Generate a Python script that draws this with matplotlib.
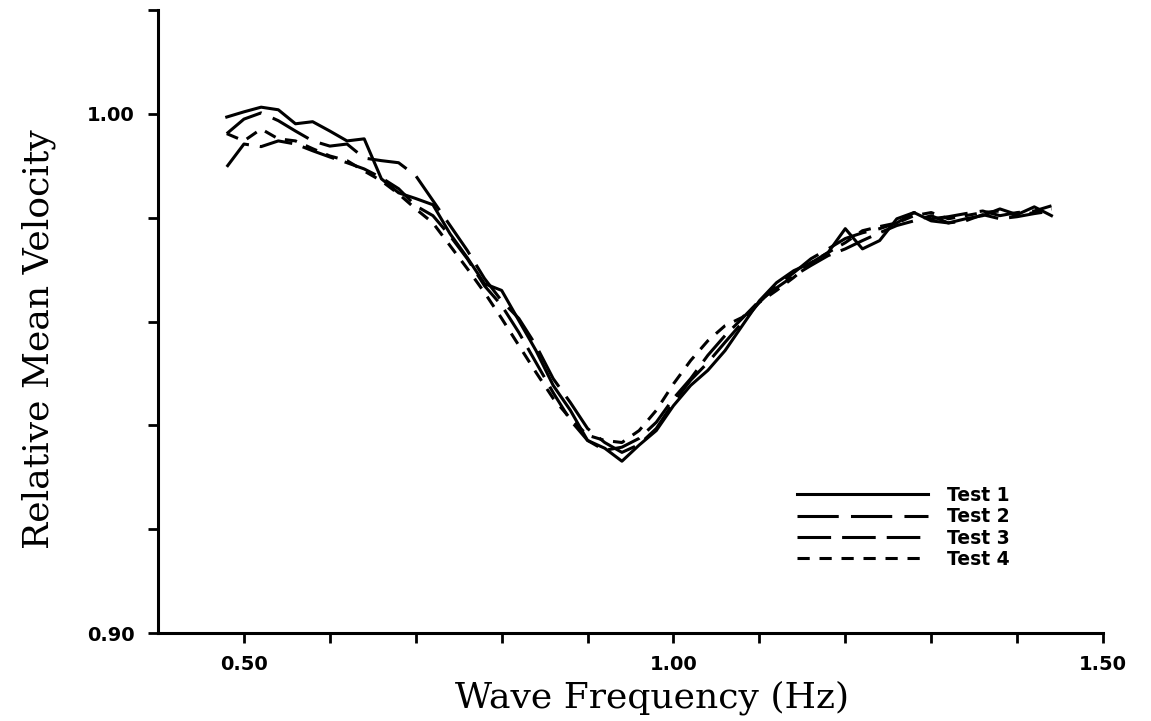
import matplotlib
matplotlib.use("Agg")
import matplotlib.pyplot as plt
import numpy as np

# wave frequency (Hz), sampled every 0.02 Hz
freq = np.round(np.arange(0.48, 1.4401, 0.02), 2)

test1 = [0.9994, 1.0004, 1.0013, 1.0008, 0.9981, 0.9985, 0.9967, 0.9948, 0.9952, 0.9875,
         0.9848, 0.9837, 0.9825, 0.9769, 0.9723, 0.9673, 0.9660, 0.9602, 0.9544, 0.9477,
         0.9429, 0.9371, 0.9356, 0.9331, 0.9362, 0.9390, 0.9438, 0.9477, 0.9506, 0.9544,
         0.9592, 0.9640, 0.9675, 0.9698, 0.9713, 0.9733, 0.9779, 0.9740, 0.9756, 0.9798,
         0.9810, 0.9794, 0.9790, 0.9798, 0.9804, 0.9817, 0.9806, 0.9821, 0.9804]
test2 = [0.9962, 0.9990, 1.0002, 0.9987, 0.9967, 0.9948, 0.9938, 0.9942, 0.9915, 0.9910,
         0.9906, 0.9881, 0.9833, 0.9785, 0.9737, 0.9683, 0.9640, 0.9606, 0.9554, 0.9490,
         0.9444, 0.9394, 0.9367, 0.9348, 0.9363, 0.9394, 0.9444, 0.9487, 0.9521, 0.9560,
         0.9598, 0.9637, 0.9669, 0.9694, 0.9721, 0.9740, 0.9760, 0.9771, 0.9779, 0.9790,
         0.9810, 0.9798, 0.9802, 0.9808, 0.9813, 0.9804, 0.9810, 0.9813, 0.9823]
test3 = [0.9898, 0.9942, 0.9937, 0.9948, 0.9942, 0.9929, 0.9917, 0.9906, 0.9894, 0.9877,
         0.9856, 0.9823, 0.9804, 0.9765, 0.9721, 0.9669, 0.9631, 0.9579, 0.9521, 0.9463,
         0.9410, 0.9371, 0.9352, 0.9358, 0.9375, 0.9406, 0.9452, 0.9490, 0.9535, 0.9573,
         0.9606, 0.9640, 0.9665, 0.9688, 0.9708, 0.9727, 0.9740, 0.9756, 0.9771, 0.9785,
         0.9794, 0.9804, 0.9790, 0.9794, 0.9806, 0.9798, 0.9802, 0.9808, 0.9813]
test4 = [0.9962, 0.9948, 0.9971, 0.9952, 0.9948, 0.9933, 0.9919, 0.9910, 0.9890, 0.9871,
         0.9846, 0.9817, 0.9790, 0.9746, 0.9702, 0.9656, 0.9606, 0.9554, 0.9502, 0.9452,
         0.9413, 0.9381, 0.9371, 0.9367, 0.9390, 0.9429, 0.9480, 0.9525, 0.9563, 0.9592,
         0.9608, 0.9637, 0.9660, 0.9685, 0.9713, 0.9733, 0.9752, 0.9775, 0.9783, 0.9790,
         0.9804, 0.9810, 0.9798, 0.9804, 0.9810, 0.9813, 0.9804, 0.9810, 0.9817]

labels = ["Test 1", "Test 2", "Test 3", "Test 4"]
styles = ["-", (0, (13.5, 4)), (0, (11, 3.6)), (0, (4, 3.2))]

fig = plt.figure(figsize=(11.51, 7.21), dpi=100)
ax = fig.add_axes([0.1373, 0.122, 0.821, 0.864])

for y, lab, ls in zip([test1, test2, test3, test4], labels, styles):
    ax.plot(freq, y, color="black", lw=2.2, linestyle=ls, label=lab,
            solid_joinstyle="round", dash_capstyle="butt")

ax.set_xlim(0.40, 1.50)
ax.set_ylim(0.90, 1.02)
ax.set_xticks(np.arange(0.5, 1.501, 0.1))
ax.set_xticklabels(["0.50", "", "", "", "", "1.00", "", "", "", "", "1.50"])
ax.set_yticks(np.arange(0.90, 1.0201, 0.02))
ax.set_yticklabels(["0.90", "", "", "", "", "1.00", ""])

for side in ["top", "right"]:
    ax.spines[side].set_visible(False)
for side in ["left", "bottom"]:
    ax.spines[side].set_linewidth(2.2)
ax.tick_params(direction="out", length=7, width=2, labelsize=14)
ax.tick_params(axis="x", pad=9)
ax.tick_params(axis="y", pad=10)
for t in ax.get_xticklabels() + ax.get_yticklabels():
    t.set_fontweight("bold")
    t.set_family("DejaVu Sans")

ax.set_xlabel("Wave Frequency (Hz)", family="DejaVu Serif", fontsize=26)
ax.xaxis.set_label_coords(0.523, -0.076)
ax.set_ylabel("Relative Mean Velocity", family="DejaVu Serif", fontsize=26)
ax.yaxis.set_label_coords(-0.108, 0.472)

leg = ax.legend(loc="upper left", bbox_to_anchor=(797 / 1151, 1 - 486 / 721),
                bbox_transform=fig.transFigure, frameon=False, handlelength=7.0,
                handletextpad=1.0, labelspacing=0.12, borderpad=0, borderaxespad=0,
                prop={"family": "DejaVu Sans", "weight": "bold", "size": 13.5})

fig.savefig("out.png", dpi=100)
